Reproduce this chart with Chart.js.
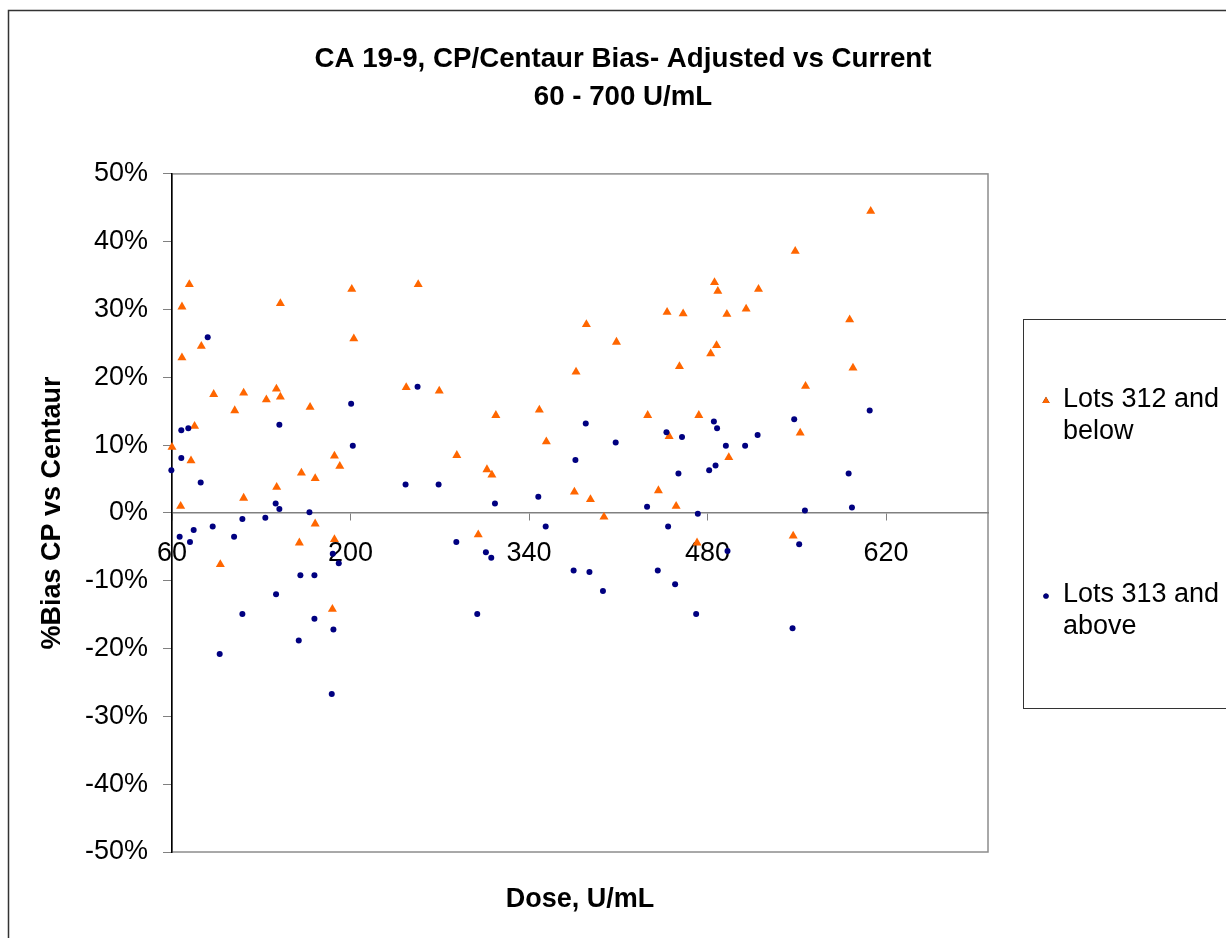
<!DOCTYPE html>
<html>
<head>
<meta charset="utf-8">
<title>CA 19-9, CP/Centaur Bias</title>
<script src="https://cdn.jsdelivr.net/npm/chart.js@4/dist/chart.umd.min.js"></script>
<style>
  body { margin: 0; background: #fff; }
  canvas { display: block; }
</style>
</head>
<body>
<canvas id="biasChart" width="1226" height="938"></canvas>
<script>
// Lots 312 and below (orange triangles)
const lowDose = [73.6, 67.8, 67.8, 83.0, 92.7, 116.2, 109.2, 134.0, 141.9, 145.0, 145.0, 168.3, 77.7, 60.0, 74.9,
  187.4, 191.6, 161.5, 172.3, 142.1, 116.2, 66.8, 201.0, 202.6, 253.1, 243.7, 269.6, 172.3, 159.9, 187.4, 97.9,
  185.8, 283.4, 314.0, 307.0, 310.9, 348.1, 353.6, 385.0, 376.9, 408.6, 375.6, 388.2, 398.8, 433.1, 448.3, 460.9,
  458.0, 441.5, 449.9, 455.4, 473.2, 482.5, 300.2, 471.8, 608.0, 548.8, 485.5, 488.1, 520.0, 510.3, 495.2, 591.5,
  487.1, 594.1, 556.9, 552.7, 496.7, 547.2];
const lowBias = [33.7, 30.4, 22.9, 24.6, 17.5, 17.7, 15.1, 16.7, 18.3, 17.1, 30.9, 15.6, 12.8, 9.7, 7.7,
  8.4, 6.9, 5.9, 5.1, 3.8, 2.2, 1.0, 33.0, 25.7, 33.7, 18.5, 18.0, -1.6, -4.4, -3.9, -7.6,
  -14.2, 8.5, 14.4, 6.4, 5.6, 15.2, 10.5, 27.8, 20.8, 25.2, 3.1, 2.0, -0.6, 14.4, 29.6, 29.4,
  21.6, 3.3, 11.3, 1.0, 14.4, 23.5, -3.2, -4.4, 44.5, 38.6, 34.0, 32.7, 33.0, 30.1, 29.3, 28.5,
  24.7, 21.4, 18.7, 11.8, 8.2, -3.4];

// Lots 313 and above (navy dots)
const highDose = [88.0, 67.3, 72.8, 67.3, 59.5, 82.5, 144.2, 200.5, 201.8, 252.6, 243.2, 269.1, 141.3, 144.2,
  167.8, 115.2, 133.2, 91.9, 77.0, 66.0, 74.1, 108.7, 186.1, 190.8, 160.7, 171.7, 141.6, 115.2, 171.7, 186.6,
  159.4, 97.4, 185.3, 313.3, 347.3, 384.5, 376.4, 408.0, 447.8, 460.0, 457.2, 481.3, 432.6, 472.4, 353.1, 449.1,
  283.0, 306.2, 310.4, 375.0, 387.4, 398.0, 441.0, 454.6, 299.4, 471.1, 607.2, 485.0, 487.5, 548.0, 519.3,
  509.5, 494.4, 486.3, 590.7, 593.3, 556.4, 551.9, 495.7, 546.7];
const highBias = [25.9, 12.2, 12.5, 8.1, 6.3, 4.5, 13.0, 16.1, 9.9, 18.6, 4.2, 4.2, 1.4, 0.6,
  0.1, -0.9, -0.7, -2.0, -2.5, -3.5, -4.3, -3.5, -6.0, -7.4, -9.2, -9.2, -12.0, -14.9, -15.6, -17.2,
  -18.8, -20.8, -26.7, 1.4, 2.4, 13.2, 7.8, 10.4, 11.9, 11.2, 5.8, 6.3, 0.9, -0.1, -2.0, -2.0,
  -4.3, -5.8, -6.6, -8.5, -8.7, -11.5, -8.5, -10.5, -14.9, -14.9, 15.1, 13.5, 12.5, 13.8, 11.5,
  9.9, 9.9, 7.0, 5.8, 0.8, 0.35, -4.6, -5.6, -17.0];

const seriesNames = ['Lots 312 and below', 'Lots 313 and above'];
const xTicks = [60, 200, 340, 480, 620];
const yTicks = [-50, -40, -30, -20, -10, 0, 10, 20, 30, 40, 50];

const FONT = 'Liberation Sans, Arial, sans-serif';

function toPoints(xs, ys) {
  return xs.map((x, i) => ({ x: x, y: ys[i] }));
}

// outer frame + plot area frame, drawn before the axes
const framePlugin = {
  id: 'frame',
  beforeDraw(chart) {
    const ctx = chart.ctx;
    const a = chart.chartArea;
    ctx.save();
    ctx.strokeStyle = '#333';
    ctx.lineWidth = 1.5;
    ctx.strokeRect(8.5, 10.5, 1400, 1000);
    ctx.strokeStyle = '#8c8c8c';
    ctx.lineWidth = 1.5;
    ctx.strokeRect(a.left, a.top, a.right - a.left, a.bottom - a.top);
    ctx.restore();
  }
};

// Excel style legend box on the right
const legendBoxPlugin = {
  id: 'legendBox',
  afterDraw(chart) {
    const ctx = chart.ctx;
    ctx.save();
    ctx.strokeStyle = '#333';
    ctx.lineWidth = 1;
    ctx.strokeRect(1023.5, 319.5, 400, 389);
    ctx.font = '27px ' + FONT;
    ctx.fillStyle = '#000';
    ctx.textAlign = 'left';
    ctx.textBaseline = 'middle';
    const rows = [401, 596];
    chart.data.datasets.forEach((ds, i) => {
      const y = rows[i];
      Chart.helpers.drawPoint(ctx, {
        pointStyle: ds.pointStyle,
        radius: ds.pointStyle === 'triangle' ? 4.2 : 2.6,
        borderWidth: 0,
        rotation: 0
      }, 1046, y);
      ctx.fillStyle = ds.backgroundColor;
      ctx.fill();
      ctx.fillStyle = '#000';
      // wrap label into the box width
      const words = ds.label.split(' ');
      const lines = [];
      let line = '';
      words.forEach(w => {
        const test = line ? line + ' ' + w : w;
        if (ctx.measureText(test).width > 166 && line) {
          lines.push(line);
          line = w;
        } else {
          line = test;
        }
      });
      lines.push(line);
      lines.forEach((t, k) => ctx.fillText(t, 1063, y - 1 + k * 31.7));
    });
    ctx.restore();
  }
};

const ctx = document.getElementById('biasChart').getContext('2d');
new Chart(ctx, {
  type: 'scatter',
  data: {
    datasets: [{
      label: seriesNames[0],
      data: toPoints(lowDose, lowBias),
      pointStyle: 'triangle',
      pointRadius: 5.2,
      pointBorderWidth: 0,
      backgroundColor: '#ff6600',
      borderColor: '#ff6600',
      clip: false,
      order: 1
    }, {
      label: seriesNames[1],
      data: toPoints(highDose, highBias),
      pointStyle: 'circle',
      pointRadius: 3,
      pointBorderWidth: 0,
      backgroundColor: '#000080',
      borderColor: '#000080',
      clip: false,
      order: 0
    }]
  },
  options: {
    responsive: false,
    animation: false,
    devicePixelRatio: 1,
    layout: {
      padding: { left: 20, right: 0, top: 0, bottom: 0 }
    },
    plugins: {
      legend: { display: false },
      tooltip: { enabled: false },
      title: {
        display: true,
        text: ['CA 19-9, CP/Centaur Bias- Adjusted vs Current', '60 - 700 U/mL'],
        color: '#000',
        font: { family: FONT, size: 27.7, weight: 'bold', lineHeight: 1.37 },
        padding: { top: 40, bottom: 58 }
      }
    },
    scales: {
      x: {
        type: 'linear',
        position: { y: 0 },
        min: 60,
        max: 700,
        afterBuildTicks: s => { s.ticks = xTicks.map(v => ({ value: v })); },
        grid: { drawOnChartArea: false, drawTicks: true, tickLength: 7, color: '#808080' },
        border: { display: true, color: '#808080', width: 1.5 },
        ticks: {
          color: '#000',
          padding: 17,
          maxRotation: 0,
          font: { family: FONT, size: 27 }
        }
      },
      x2: {
        type: 'linear',
        position: 'bottom',
        min: 60,
        max: 700,
        afterFit: s => { s.height = 86; },
        grid: { display: false },
        border: { display: false },
        ticks: { display: false },
        title: {
          display: true,
          text: 'Dose, U/mL',
          color: '#000',
          font: { family: FONT, size: 27, weight: 'bold' },
          padding: { top: 0, bottom: 22 }
        }
      },
      y: {
        type: 'linear',
        position: 'left',
        min: -50,
        max: 50,
        afterBuildTicks: s => { s.ticks = yTicks.map(v => ({ value: v })); },
        afterFit: s => { s.width = 152; },
        grid: { drawOnChartArea: false, drawTicks: true, tickLength: 9, color: '#808080' },
        border: { display: true, color: '#000', width: 1.5 },
        ticks: {
          color: '#000',
          padding: 15,
          font: { family: FONT, size: 27 },
          callback: v => v + '%'
        },
        title: {
          display: true,
          text: '%Bias CP vs Centaur',
          color: '#000',
          font: { family: FONT, size: 27, weight: 'bold' },
          padding: { top: 16, bottom: 0 }
        }
      },
      // empty right-hand axis that reserves the room the legend box sits in
      y2: {
        type: 'linear',
        position: 'right',
        afterFit: s => { s.width = 238; },
        grid: { display: false },
        border: { display: false },
        ticks: { display: false }
      }
    }
  },
  plugins: [framePlugin, legendBoxPlugin]
});
</script>
</body>
</html>
